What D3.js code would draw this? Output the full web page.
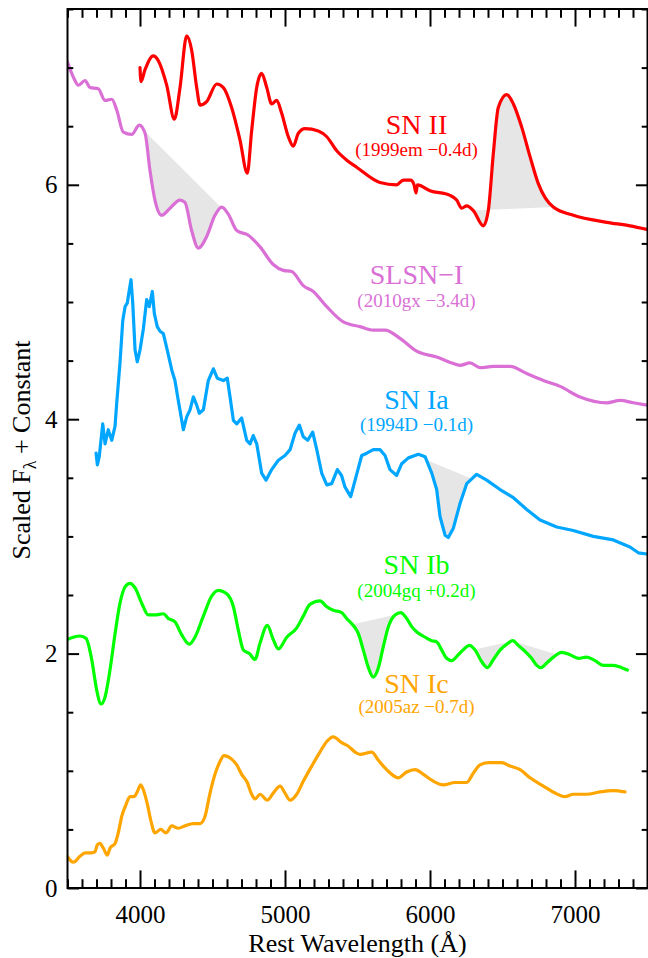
<!DOCTYPE html>
<html><head><meta charset="utf-8">
<script src="https://cdn.jsdelivr.net/npm/d3@7"></script>
<style>html,body{margin:0;padding:0;background:#fff;} svg{display:block;}</style>
</head><body>
<svg id="chart" width="648" height="958"></svg>
<script>
// ---------- DATA ----------
const xTicksMajor = [4000, 5000, 6000, 7000];
const yTicksMajor = [0, 2, 4, 6];

const seriesNames = ["SN II", "SLSN\u2212I", "SN Ia", "SN Ib", "SN Ic"];
const seriesSubs  = ["(1999em \u22120.4d)", "(2010gx \u22123.4d)", "(1994D \u22120.1d)", "(2004gq +0.2d)", "(2005az \u22120.7d)"];

const snII = [[4000,7.00],[4007,6.88],[4034,6.98],[4092,7.10],[4126,7.06],[4184,6.85],[4237,6.56],[4276,6.83],[4322,7.27],[4356,7.15],[4391,6.83],[4414,6.68],[4460,6.71],[4529,6.86],[4575,6.83],[4632,6.66],[4690,6.38],[4740,6.10],[4770,6.46],[4805,6.83],[4839,6.95],[4874,6.83],[4908,6.69],[4943,6.72],[4977,6.61],[5023,6.41],[5057,6.33],[5092,6.44],[5138,6.48],[5230,6.46],[5288,6.41],[5357,6.29],[5426,6.21],[5494,6.15],[5655,6.02],[5770,6.00],[5816,6.04],[5867,6.04],[5890,6.00],[5904,5.93],[5913,6.00],[6000,5.95],[6138,5.91],[6184,5.87],[6219,5.80],[6253,5.82],[6299,5.78],[6368,5.65],[6402,5.78],[6437,6.27],[6471,6.66],[6529,6.77],[6575,6.69],[6633,6.49],[6690,6.24],[6747,6.01],[6850,5.81],[6988,5.74],[7219,5.68],[7379,5.65],[7495,5.62]];

const slsnI = [[3499,7.05],[3540,6.92],[3575,6.85],[3621,6.89],[3655,6.83],[3712,6.82],[3759,6.72],[3805,6.73],[3839,6.64],[3885,6.45],[3943,6.43],[3995,6.51],[4035,6.44],[4069,6.12],[4103,5.87],[4150,5.74],[4207,5.80],[4276,5.87],[4310,5.85],[4356,5.61],[4402,5.46],[4460,5.56],[4517,5.74],[4563,5.81],[4609,5.75],[4667,5.61],[4747,5.57],[4828,5.47],[4919,5.32],[4988,5.27],[5046,5.26],[5126,5.14],[5195,5.09],[5288,4.96],[5402,4.83],[5517,4.79],[5609,4.76],[5690,4.76],[5793,4.69],[5908,4.58],[6046,4.53],[6150,4.48],[6207,4.46],[6276,4.48],[6345,4.44],[6437,4.45],[6552,4.45],[6667,4.39],[6805,4.32],[6897,4.28],[7035,4.19],[7219,4.14],[7311,4.16],[7402,4.14],[7495,4.12]];

const snIa = [[3697,3.71],[3706,3.61],[3719,3.68],[3743,3.96],[3759,3.79],[3781,3.91],[3805,3.82],[3828,3.94],[3839,4.13],[3862,4.48],[3881,4.84],[3897,4.96],[3912,4.99],[3926,5.10],[3938,5.19],[3950,4.99],[3966,4.59],[3981,4.49],[4000,4.59],[4023,4.77],[4046,5.02],[4064,4.96],[4085,5.09],[4099,4.90],[4119,4.79],[4138,4.75],[4161,4.73],[4188,4.59],[4219,4.42],[4241,4.33],[4264,4.16],[4299,3.91],[4322,4.02],[4345,4.08],[4368,4.19],[4391,4.12],[4409,4.05],[4437,4.08],[4471,4.33],[4506,4.43],[4533,4.35],[4575,4.33],[4602,4.35],[4621,4.19],[4644,3.99],[4667,3.96],[4701,4.01],[4736,3.82],[4759,3.79],[4781,3.86],[4805,3.79],[4839,3.54],[4869,3.48],[4908,3.57],[4954,3.65],[5000,3.69],[5035,3.74],[5069,3.88],[5099,3.95],[5126,3.85],[5157,3.82],[5191,3.89],[5219,3.74],[5253,3.54],[5288,3.44],[5322,3.45],[5361,3.57],[5390,3.52],[5414,3.42],[5453,3.34],[5490,3.51],[5529,3.69],[5564,3.71],[5609,3.74],[5655,3.74],[5690,3.69],[5724,3.57],[5770,3.52],[5805,3.62],[5851,3.67],[5920,3.70],[5966,3.68],[6012,3.54],[6046,3.40],[6069,3.17],[6104,3.01],[6126,2.99],[6161,3.07],[6207,3.28],[6253,3.45],[6322,3.53],[6391,3.48],[6483,3.40],[6575,3.33],[6667,3.23],[6759,3.14],[6874,3.08],[6988,3.05],[7126,3.00],[7264,2.97],[7379,2.91],[7437,2.86],[7495,2.85]];

const snIb = [[3499,2.12],[3540,2.14],[3586,2.15],[3628,2.13],[3667,1.95],[3701,1.69],[3731,1.57],[3759,1.63],[3793,1.86],[3828,2.17],[3862,2.43],[3897,2.57],[3931,2.60],[3966,2.56],[4012,2.43],[4057,2.33],[4103,2.33],[4161,2.34],[4195,2.30],[4241,2.27],[4288,2.16],[4340,2.08],[4379,2.14],[4437,2.32],[4494,2.49],[4540,2.54],[4598,2.51],[4644,2.40],[4678,2.20],[4713,2.03],[4754,2.00],[4793,1.95],[4828,2.09],[4878,2.24],[4919,2.12],[4954,2.04],[5012,2.14],[5081,2.22],[5126,2.32],[5172,2.42],[5241,2.45],[5288,2.40],[5333,2.37],[5391,2.35],[5425,2.30],[5471,2.24],[5506,2.17],[5540,2.03],[5575,1.88],[5609,1.80],[5644,1.88],[5678,2.06],[5713,2.23],[5759,2.33],[5798,2.35],[5839,2.30],[5874,2.23],[5913,2.18],[5966,2.14],[6012,2.11],[6046,2.10],[6081,2.03],[6115,1.96],[6150,1.94],[6195,1.99],[6235,2.04],[6271,2.07],[6311,2.03],[6357,1.93],[6396,1.88],[6437,1.95],[6483,2.03],[6529,2.08],[6571,2.11],[6609,2.07],[6655,2.02],[6701,1.96],[6736,1.90],[6764,1.88],[6805,1.92],[6851,1.97],[6908,2.01],[6966,1.99],[7023,1.96],[7081,1.97],[7138,1.94],[7195,1.90],[7264,1.90],[7322,1.88],[7361,1.86]];

const snIc = [[3499,0.27],[3540,0.22],[3586,0.27],[3621,0.30],[3667,0.30],[3690,0.31],[3706,0.37],[3724,0.38],[3747,0.34],[3775,0.28],[3793,0.34],[3828,0.38],[3850,0.47],[3874,0.61],[3903,0.71],[3931,0.78],[3959,0.78],[3981,0.82],[4005,0.88],[4028,0.82],[4050,0.72],[4074,0.58],[4103,0.47],[4143,0.50],[4179,0.47],[4219,0.53],[4264,0.51],[4310,0.53],[4368,0.55],[4414,0.55],[4448,0.61],[4483,0.81],[4517,0.97],[4552,1.08],[4579,1.13],[4632,1.10],[4667,1.05],[4701,0.97],[4740,0.90],[4770,0.80],[4793,0.76],[4828,0.80],[4878,0.75],[4919,0.81],[4966,0.87],[5000,0.81],[5035,0.75],[5081,0.80],[5126,0.91],[5184,1.04],[5241,1.16],[5288,1.25],[5333,1.29],[5391,1.24],[5437,1.21],[5483,1.16],[5517,1.14],[5598,1.16],[5644,1.09],[5701,1.01],[5782,0.94],[5839,0.99],[5897,1.01],[5954,0.97],[6012,0.92],[6092,0.88],[6173,0.90],[6253,0.90],[6299,0.98],[6345,1.05],[6402,1.07],[6495,1.07],[6552,1.04],[6621,1.01],[6690,0.94],[6782,0.87],[6862,0.81],[6931,0.78],[6988,0.80],[7081,0.80],[7173,0.82],[7264,0.83],[7345,0.82]];

// shaded feature ranges (series index, start wavelength, end wavelength)
const shadeSeries = [0, 1, 2, 3, 3, 3];
const shadeStart  = [6299, 4010, 5975, 5465, 6305, 6575];
const shadeEnd    = [6850, 4560, 6290, 5765, 6565, 6880];

// ---------- LAYOUT ----------
const allSeries = [snII, slsnI, snIa, snIb, snIc];
const colors = ["#ff0000", "#da70d6", "#00a6ff", "#00ff00", "#ffa500"];
const smooth = [true, true, false, true, true];
const labelY = [[134, 156], [284, 307], [409, 431], [574, 597], [693, 713]];

const L = 67.5, R = 647.5, T = 9, B = 888;
const svg = d3.select("#chart");
const font = "'Liberation Serif', 'Times New Roman', serif";

const x = d3.scaleLinear().domain([3500, 7500]).range([L, R]);
const y = d3.scaleLinear().domain([0, 7.5]).range([B, T]);

svg.append("clipPath").attr("id", "clip")
  .append("rect").attr("x", L).attr("y", T).attr("width", R - L).attr("height", B - T);

const g = svg.append("g").attr("clip-path", "url(#clip)");

function interp(data, w) {
  for (let i = 0; i < data.length - 1; i++) {
    const a = data[i], b = data[i + 1];
    if (w >= a[0] && w <= b[0]) {
      const t = (w - a[0]) / (b[0] - a[0]);
      return a[1] + t * (b[1] - a[1]);
    }
  }
  return data[data.length - 1][1];
}

// shading
shadeSeries.forEach((si, k) => {
  const data = allSeries[si];
  const w0 = shadeStart[k], w1 = shadeEnd[k];
  const pts = [[w0, interp(data, w0)]].concat(data.filter(d => d[0] > w0 && d[0] < w1)).concat([[w1, interp(data, w1)]]);
  const line = d3.line().x(d => x(d[0])).y(d => y(d[1])).curve(smooth[si] ? d3.curveMonotoneX : d3.curveLinear);
  g.append("path").attr("d", line(pts) + "Z").attr("fill", "#e6e6e6").attr("stroke", "none");
});

// spectra
allSeries.forEach((data, i) => {
  const line = d3.line().x(d => x(d[0])).y(d => y(d[1])).curve(smooth[i] ? d3.curveMonotoneX : d3.curveLinear);
  g.append("path").attr("d", line(data)).attr("fill", "none")
    .attr("stroke", colors[i]).attr("stroke-width", 3.2).attr("stroke-linejoin", "round").attr("stroke-linecap", "round");
});

// labels
seriesNames.forEach((n, i) => {
  svg.append("text").attr("x", 416.5).attr("y", labelY[i][0]).attr("text-anchor", "middle")
    .attr("font-family", font).attr("font-size", 28).attr("fill", colors[i]).text(n);
  svg.append("text").attr("x", 416.5).attr("y", labelY[i][1]).attr("text-anchor", "middle")
    .attr("font-family", font).attr("font-size", 19).attr("fill", colors[i]).text(seriesSubs[i]);
});

// axes
const xMinor = d3.range(3500, 7501, 100).filter(v => !xTicksMajor.includes(v));
const yMinor = d3.range(0, 7.51, 0.5).filter(v => !yTicksMajor.includes(v));
const xMaj = 17.6, xMin = 8.8, yMaj = 11.6, yMin = 5.8;

function styleAxis(sel) {
  sel.select(".domain").remove();
  sel.selectAll("line").attr("stroke", "#000").attr("stroke-width", 2);
  sel.selectAll("text").attr("font-family", font).attr("font-size", 25).attr("fill", "#000");
}

svg.append("g").attr("transform", `translate(0,${B})`)
  .call(d3.axisBottom(x).tickValues(xTicksMajor).tickSize(-xMaj).tickPadding(17).tickFormat(d3.format("d")))
  .call(styleAxis);
svg.append("g").attr("transform", `translate(0,${B})`)
  .call(d3.axisBottom(x).tickValues(xMinor).tickSize(-xMin).tickFormat(""))
  .call(styleAxis);
svg.append("g").attr("transform", `translate(0,${T})`)
  .call(d3.axisTop(x).tickValues(xTicksMajor).tickSize(-xMaj).tickFormat(""))
  .call(styleAxis);
svg.append("g").attr("transform", `translate(0,${T})`)
  .call(d3.axisTop(x).tickValues(xMinor).tickSize(-xMin).tickFormat(""))
  .call(styleAxis);
svg.append("g").attr("transform", `translate(${L},0)`)
  .call(d3.axisLeft(y).tickValues(yTicksMajor).tickSize(-yMaj).tickPadding(10).tickFormat(d3.format("d")))
  .call(styleAxis);
svg.append("g").attr("transform", `translate(${L},0)`)
  .call(d3.axisLeft(y).tickValues(yMinor).tickSize(-yMin).tickFormat(""))
  .call(styleAxis);
svg.append("g").attr("transform", `translate(${R},0)`)
  .call(d3.axisRight(y).tickValues(yTicksMajor).tickSize(-yMaj).tickFormat(""))
  .call(styleAxis);
svg.append("g").attr("transform", `translate(${R},0)`)
  .call(d3.axisRight(y).tickValues(yMinor).tickSize(-yMin).tickFormat(""))
  .call(styleAxis);

svg.append("rect").attr("x", L).attr("y", T).attr("width", R - L).attr("height", B - T)
  .attr("fill", "none").attr("stroke", "#000").attr("stroke-width", 2);

// axis titles
svg.append("text").attr("x", (L + R) / 2).attr("y", 952).attr("text-anchor", "middle")
  .attr("font-family", font).attr("font-size", 26).attr("fill", "#000").text("Rest Wavelength (\u00c5)");

const yt = svg.append("text").attr("transform", "translate(30,450) rotate(-90)").attr("text-anchor", "middle")
  .attr("font-family", font).attr("font-size", 26).attr("fill", "#000");
yt.append("tspan").text("Scaled F");
yt.append("tspan").attr("font-size", 18).attr("dy", 6).text("\u03bb");
yt.append("tspan").attr("dy", -6).text(" + Constant");
</script>
</body></html>
